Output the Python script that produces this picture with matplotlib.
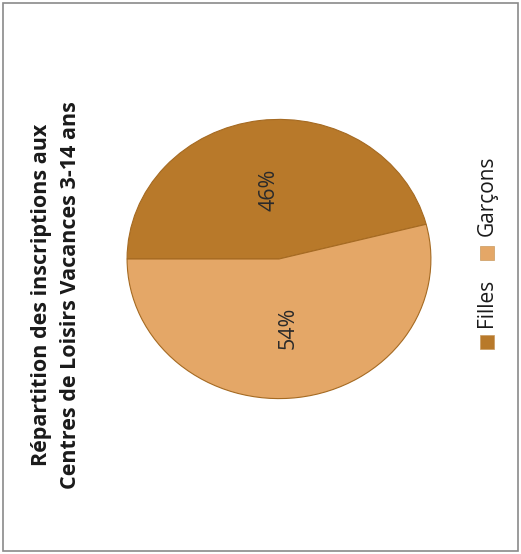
import matplotlib.pyplot as plt
from matplotlib.patches import Rectangle

# data
labels = ['Filles', 'Garçons']
values = [46, 54]
colors = ['#B8792A', '#E4A767']
title = 'Répartition des inscriptions aux\nCentres de Loisirs Vacances 3-14 ans'

plt.rcParams['font.family'] = ['Open Sans', 'DejaVu Sans']

W, H = 521, 554
fig = plt.figure(figsize=(W / 100, H / 100), dpi=100)
fig.patch.set_facecolor('white')

# whole chart is turned 90 degrees counter-clockwise
ax = fig.add_axes([0.241, 0.278, 0.589, 0.509])
wedges, texts, autotexts = ax.pie(values, colors=colors, startangle=180, counterclock=False,
                                  autopct='%d%%', pctdistance=0.5,
                                  wedgeprops=dict(edgecolor='#A56A22', linewidth=0.8))
for t in autotexts:
    t.set_rotation(90)
    t.set_fontsize(15.5)
    t.set_color('#2a2a2a')
ax.set_aspect('auto')
ax.set_xlim(-1.01, 1.01)
ax.set_ylim(-1.01, 1.01)

# title (rotated)
fig.text(56 / W, 1 - 295 / H, title, rotation=90, ha='center', va='center',
         fontsize=15.5, fontweight='bold', color='#1a1a1a', linespacing=1.45,
         multialignment='center')

# legend drawn by hand, rotated
leg_x = 487
items = [(labels[0], colors[0], 342, 303), (labels[1], colors[1], 253, 196)]
for name, col, sq_y, txt_y in items:
    fig.patches.append(Rectangle(((leg_x - 7) / W, 1 - (sq_y + 7) / H), 14 / W, 14 / H,
                                 transform=fig.transFigure, facecolor=col,
                                 edgecolor='#c99a60', linewidth=0.5))
    fig.text(leg_x / W, 1 - txt_y / H, name, rotation=90, ha='center', va='center',
             fontsize=15, color='#1a1a1a')

# outer frame
fig.patches.append(Rectangle((3 / W, 3 / H), (W - 6) / W, (H - 6) / H,
                             transform=fig.transFigure, fill=False,
                             edgecolor='#8a8a8a', linewidth=1.2))

fig.savefig('out.png', dpi=100)
